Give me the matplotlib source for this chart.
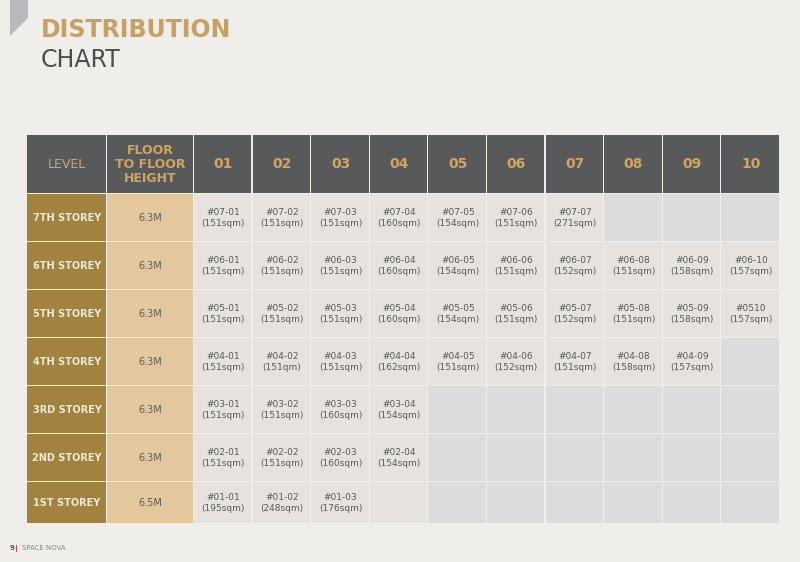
import matplotlib
matplotlib.use("Agg")
import matplotlib.pyplot as plt
from matplotlib.patches import Rectangle, Polygon

BG = "#efeeea"
DARK = "#58595b"
GOLD = "#d4a45a"
LEVEL_FILL = "#a2823f"
HEIGHT_FILL = "#e4c89d"
UNIT_FILL = "#e6e3de"
EMPTY_FILL = "#dcdcdd"
TXT = "#5a5a5a"

headers = ["LEVEL", "FLOOR\nTO FLOOR\nHEIGHT", "01", "02", "03", "04", "05",
           "06", "07", "08", "09", "10"]
levels = ["7TH STOREY", "6TH STOREY", "5TH STOREY", "4TH STOREY",
          "3RD STOREY", "2ND STOREY", "1ST STOREY"]
heights = ["6.3M", "6.3M", "6.3M", "6.3M", "6.3M", "6.3M", "6.5M"]
units = [
    ["#07-01\n(151sqm)", "#07-02\n(151sqm)", "#07-03\n(151sqm)", "#07-04\n(160sqm)",
     "#07-05\n(154sqm)", "#07-06\n(151sqm)", "#07-07\n(271sqm)", None, None, None],
    ["#06-01\n(151sqm)", "#06-02\n(151sqm)", "#06-03\n(151sqm)", "#06-04\n(160sqm)",
     "#06-05\n(154sqm)", "#06-06\n(151sqm)", "#06-07\n(152sqm)", "#06-08\n(151sqm)",
     "#06-09\n(158sqm)", "#06-10\n(157sqm)"],
    ["#05-01\n(151sqm)", "#05-02\n(151sqm)", "#05-03\n(151sqm)", "#05-04\n(160sqm)",
     "#05-05\n(154sqm)", "#05-06\n(151sqm)", "#05-07\n(152sqm)", "#05-08\n(151sqm)",
     "#05-09\n(158sqm)", "#0510\n(157sqm)"],
    ["#04-01\n(151sqm)", "#04-02\n(151qm)", "#04-03\n(151sqm)", "#04-04\n(162sqm)",
     "#04-05\n(151sqm)", "#04-06\n(152sqm)", "#04-07\n(151sqm)", "#04-08\n(158sqm)",
     "#04-09\n(157sqm)", None],
    ["#03-01\n(151sqm)", "#03-02\n(151sqm)", "#03-03\n(160sqm)", "#03-04\n(154sqm)",
     None, None, None, None, None, None],
    ["#02-01\n(151sqm)", "#02-02\n(151sqm)", "#02-03\n(160sqm)", "#02-04\n(154sqm)",
     None, None, None, None, None, None],
    ["#01-01\n(195sqm)", "#01-02\n(248sqm)", "#01-03\n(176sqm)", "",
     None, None, None, None, None, None],
]

fig = plt.figure(figsize=(8.0, 5.62), dpi=100, facecolor=BG)
ax = fig.add_axes([0, 0, 1, 1])
ax.set_xlim(0, 800); ax.set_ylim(562, 0); ax.axis("off")

# corner tab + title
ax.add_patch(Polygon([(10, 0), (28, 0), (28, 18), (10, 36)], color="#b9babe", lw=0))
ax.text(41, 30, "DISTRIBUTION", fontsize=17, color="#c9a063", weight="bold",
        va="center", family="DejaVu Sans")
ax.text(41, 60, "CHART", fontsize=17, color="#4d4d4d", va="center",
        family="DejaVu Sans")

col_x = [27, 107, 194] + [194 + 58.6 * i for i in range(1, 11)]
row_y = [135, 194, 242, 290, 338, 386, 434, 482, 524]
gap = 1.2


def cell(c, r, fill, text, color, fs, bold=False):
    x0, x1 = col_x[c], col_x[c + 1]
    y0, y1 = row_y[r], row_y[r + 1]
    ax.add_patch(Rectangle((x0, y0), x1 - x0 - gap, y1 - y0 - gap,
                           facecolor=fill, edgecolor="none"))
    if text:
        ax.text((x0 + x1) / 2, (y0 + y1) / 2, text, ha="center", va="center",
                fontsize=fs, color=color, weight="bold" if bold else "normal",
                linespacing=1.15)


for c, h in enumerate(headers):
    fs = 9 if c < 2 else 10
    cell(c, 0, DARK, h, GOLD, fs, bold=(c >= 1))

for r, lv in enumerate(levels):
    cell(0, r + 1, LEVEL_FILL, lv, "#f3ead8", 7, bold=True)
    cell(1, r + 1, HEIGHT_FILL, heights[r], TXT, 7)
    for c, u in enumerate(units[r]):
        fill = EMPTY_FILL if u is None else UNIT_FILL
        cell(c + 2, r + 1, fill, u, TXT, 6.5)

ax.text(10, 548, "9", fontsize=5, color="#555555", va="center", weight="bold")
ax.plot([16, 16], [545, 551], color="#c0504d", lw=0.8)
ax.text(22, 548, "SPACE NOVA", fontsize=5, color="#888888", va="center")

fig.savefig("out.png", dpi=100, facecolor=BG)
